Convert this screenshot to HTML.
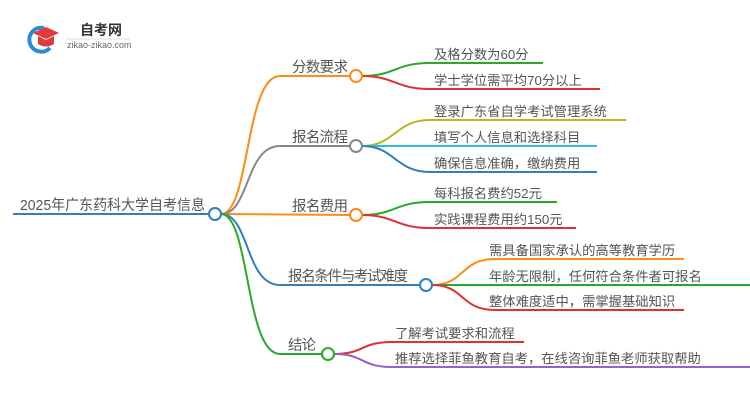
<!DOCTYPE html>
<html><head><meta charset="utf-8"><style>
html,body{margin:0;padding:0;background:#fff;}
svg text{font-family:"Liberation Sans","Noto Sans CJK SC",sans-serif;fill:#555;}
</style></head><body>
<svg width="750" height="410" viewBox="0 0 750 410" xmlns="http://www.w3.org/2000/svg">
<path d="M44 28 A12 12 0 1 0 50 48" fill="none" stroke="#2a8ad8" stroke-width="4"/>
<polygon points="33,33 46,27 59,33 46,39" fill="#e03a3a"/>
<path d="M38 36 L38 44 Q46 49 54 44 L54 36 L46 40 Z" fill="#e03a3a"/>
<text x="80" y="35" font-size="14" font-weight="bold" style="fill:#333">自考网</text>
<line x1="66" y1="39" x2="130" y2="39" stroke="#ddd"/>
<text x="67" y="48" font-size="9" style="fill:#666">zikao-zikao.com</text>

<g fill="none" stroke-width="2">
<line x1="13" y1="214" x2="209" y2="214" stroke="#2f7fc1"/>
<path d="M221 214 C250 214 245 76 280 76 L350 76" stroke="#ff8a1a"/>
<path d="M221 214 C250 214 245 146 280 146 L350 146" stroke="#888"/>
<path d="M221 214 L350 215" stroke="#ff8a1a"/>
<path d="M221 214 C250 214 245 285 280 285 L420 285" stroke="#2f7fc1"/>
<path d="M221 214 C250 214 245 354 280 354 L322 354" stroke="#2aa82a"/>
<path d="M362 76 C395 76 395 63 430 63 L543 63" stroke="#2aa82a"/>
<path d="M362 76 C395 76 395 89 430 89 L600 89" stroke="#e03030"/>
<path d="M362 146 C395 146 395 120 430 120 L626 120" stroke="#b8b820"/>
<path d="M362 146 L597 146" stroke="#2bc0d8"/>
<path d="M362 146 C395 146 395 172 430 172 L597 172" stroke="#2f7fc1"/>
<path d="M362 215 C395 215 395 202 430 202 L557 202" stroke="#2aa82a"/>
<path d="M362 215 C395 215 395 228 430 228 L576 228" stroke="#e03030"/>
<path d="M432 285 C465 285 460 259 495 259 L684 259" stroke="#ff8a1a"/>
<path d="M432 285 L750 285" stroke="#2aa82a"/>
<path d="M432 285 C465 285 460 310 495 310 L684 310" stroke="#e03030"/>
<path d="M334 354 C365 354 360 342 392 342 L524 342" stroke="#e03030"/>
<path d="M334 354 C365 354 360 367 392 367 L750 367" stroke="#9a5fc8"/>
</g>
<g fill="#fff" stroke-width="2">
<circle cx="215" cy="214" r="6" stroke="#2f7fc1"/>
<circle cx="356" cy="76" r="6" stroke="#ff8a1a"/>
<circle cx="356" cy="146" r="6" stroke="#888"/>
<circle cx="356" cy="215" r="6" stroke="#ff8a1a"/>
<circle cx="426" cy="285" r="6" stroke="#2f7fc1"/>
<circle cx="328" cy="354" r="6" stroke="#2aa82a"/>
</g>
<g font-size="14.5">
<text x="20" y="210" textLength="185" lengthAdjust="spacingAndGlyphs">2025年广东药科大学自考信息</text>
<text x="292" y="72" textLength="56">分数要求</text>
<text x="292" y="142" textLength="56">报名流程</text>
<text x="292" y="211" textLength="56">报名费用</text>
<text x="288" y="281" textLength="120">报名条件与考试难度</text>
<text x="288" y="350" textLength="28">结论</text>
</g>
<g font-size="13.3">
<text x="434" y="59">及格分数为60分</text>
<text x="434" y="85">学士学位需平均70分以上</text>
<text x="434" y="116">登录广东省自学考试管理系统</text>
<text x="434" y="142">填写个人信息和选择科目</text>
<text x="434" y="168">确保信息准确，缴纳费用</text>
<text x="434" y="198">每科报名费约52元</text>
<text x="434" y="224">实践课程费用约150元</text>
<text x="489" y="255">需具备国家承认的高等教育学历</text>
<text x="489" y="281">年龄无限制，任何符合条件者可报名</text>
<text x="489" y="306">整体难度适中，需掌握基础知识</text>
<text x="395" y="338">了解考试要求和流程</text>
<text x="395" y="363">推荐选择菲鱼教育自考，在线咨询菲鱼老师获取帮助</text>
</g>
</svg>
</body></html>
